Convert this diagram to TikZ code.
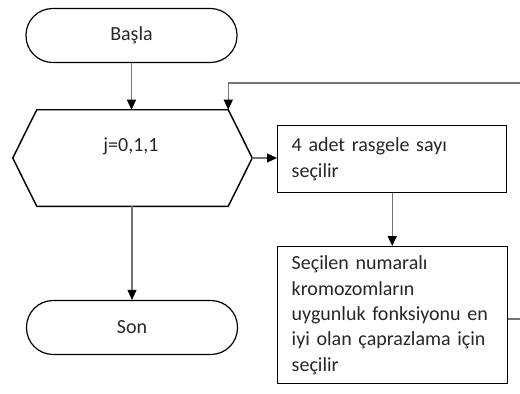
\documentclass[tikz,border=0pt]{standalone}
\usepackage{fontspec}
\setmainfont{Carlito}
\usetikzlibrary{arrows.meta,calc}

\begin{document}
\begin{tikzpicture}[x=0.75pt,y=-0.75pt,
  every node/.style={font=\fontsize{15}{19}\selectfont, text=black!85},
  term/.style={draw=black, line width=0.9pt, rounded corners=20pt,
    minimum width=158.25pt, minimum height=40.5pt, inner sep=0pt},
  procbox/.style={draw=black, line width=1.1pt, anchor=north west, align=left,
    inner xsep=10.5pt, inner ysep=0pt},
  link/.style={draw=black!55, line width=0.8pt,
    -{Triangle[width=6.75pt,length=7.5pt,black]}},
  plain/.style={draw=black!55, line width=0.8pt}]
\useasboundingbox (0,0) rectangle (520,393);
\clip (0,0) rectangle (520,393);

% terminators
\node[term] (basla) at (131.5,35.5) {Başla};
\node[term] (son) at (132,327.5) {Son};

% loop hexagon
\node[minimum width=179.25pt, minimum height=72pt, inner sep=0pt] (hex) at (132.5,158) {};
\draw[line width=1.1pt, line join=miter]
  ($(hex.north west)+(24,0)$) -- ($(hex.north east)+(-24,0)$) -- (hex.east)
  -- ($(hex.south east)+(-24,0)$) -- ($(hex.south west)+(24,0)$) -- (hex.west) -- cycle;
\node (jlabel) at (131,146) {j=0,1,1};
\coordinate (hexTR) at ($(hex.north east)+(-24,0)$);

% process boxes
\node[procbox, text width=150.75pt, minimum height=50.25pt] (box1) at (277,125)
  {4 adet rasgele sayı\\seçilir};
\node[procbox, text width=151.5pt, minimum height=102.75pt] (box2) at (277,246)
  {Seçilen numaralı\\kromozomların\\uygunluk fonksiyonu en\\iyi olan çaprazlama için\\seçilir};

% connectors
\draw[link] (basla.south) -- (basla.south |- hex.north);
\draw[link] (hex.south -| son.north) -- (son.north);
\draw[link] (hex.east) -- (hex.east -| box1.west);
\draw[link] (box1.south) -- (box1.south |- box2.north);

\coordinate (loopR) at (522,319);
\coordinate (loopTop) at (522,83);
\draw[link] (box2.east |- loopR) -- (loopR) -- (loopTop) -| (hexTR);
\end{tikzpicture}
\end{document}
